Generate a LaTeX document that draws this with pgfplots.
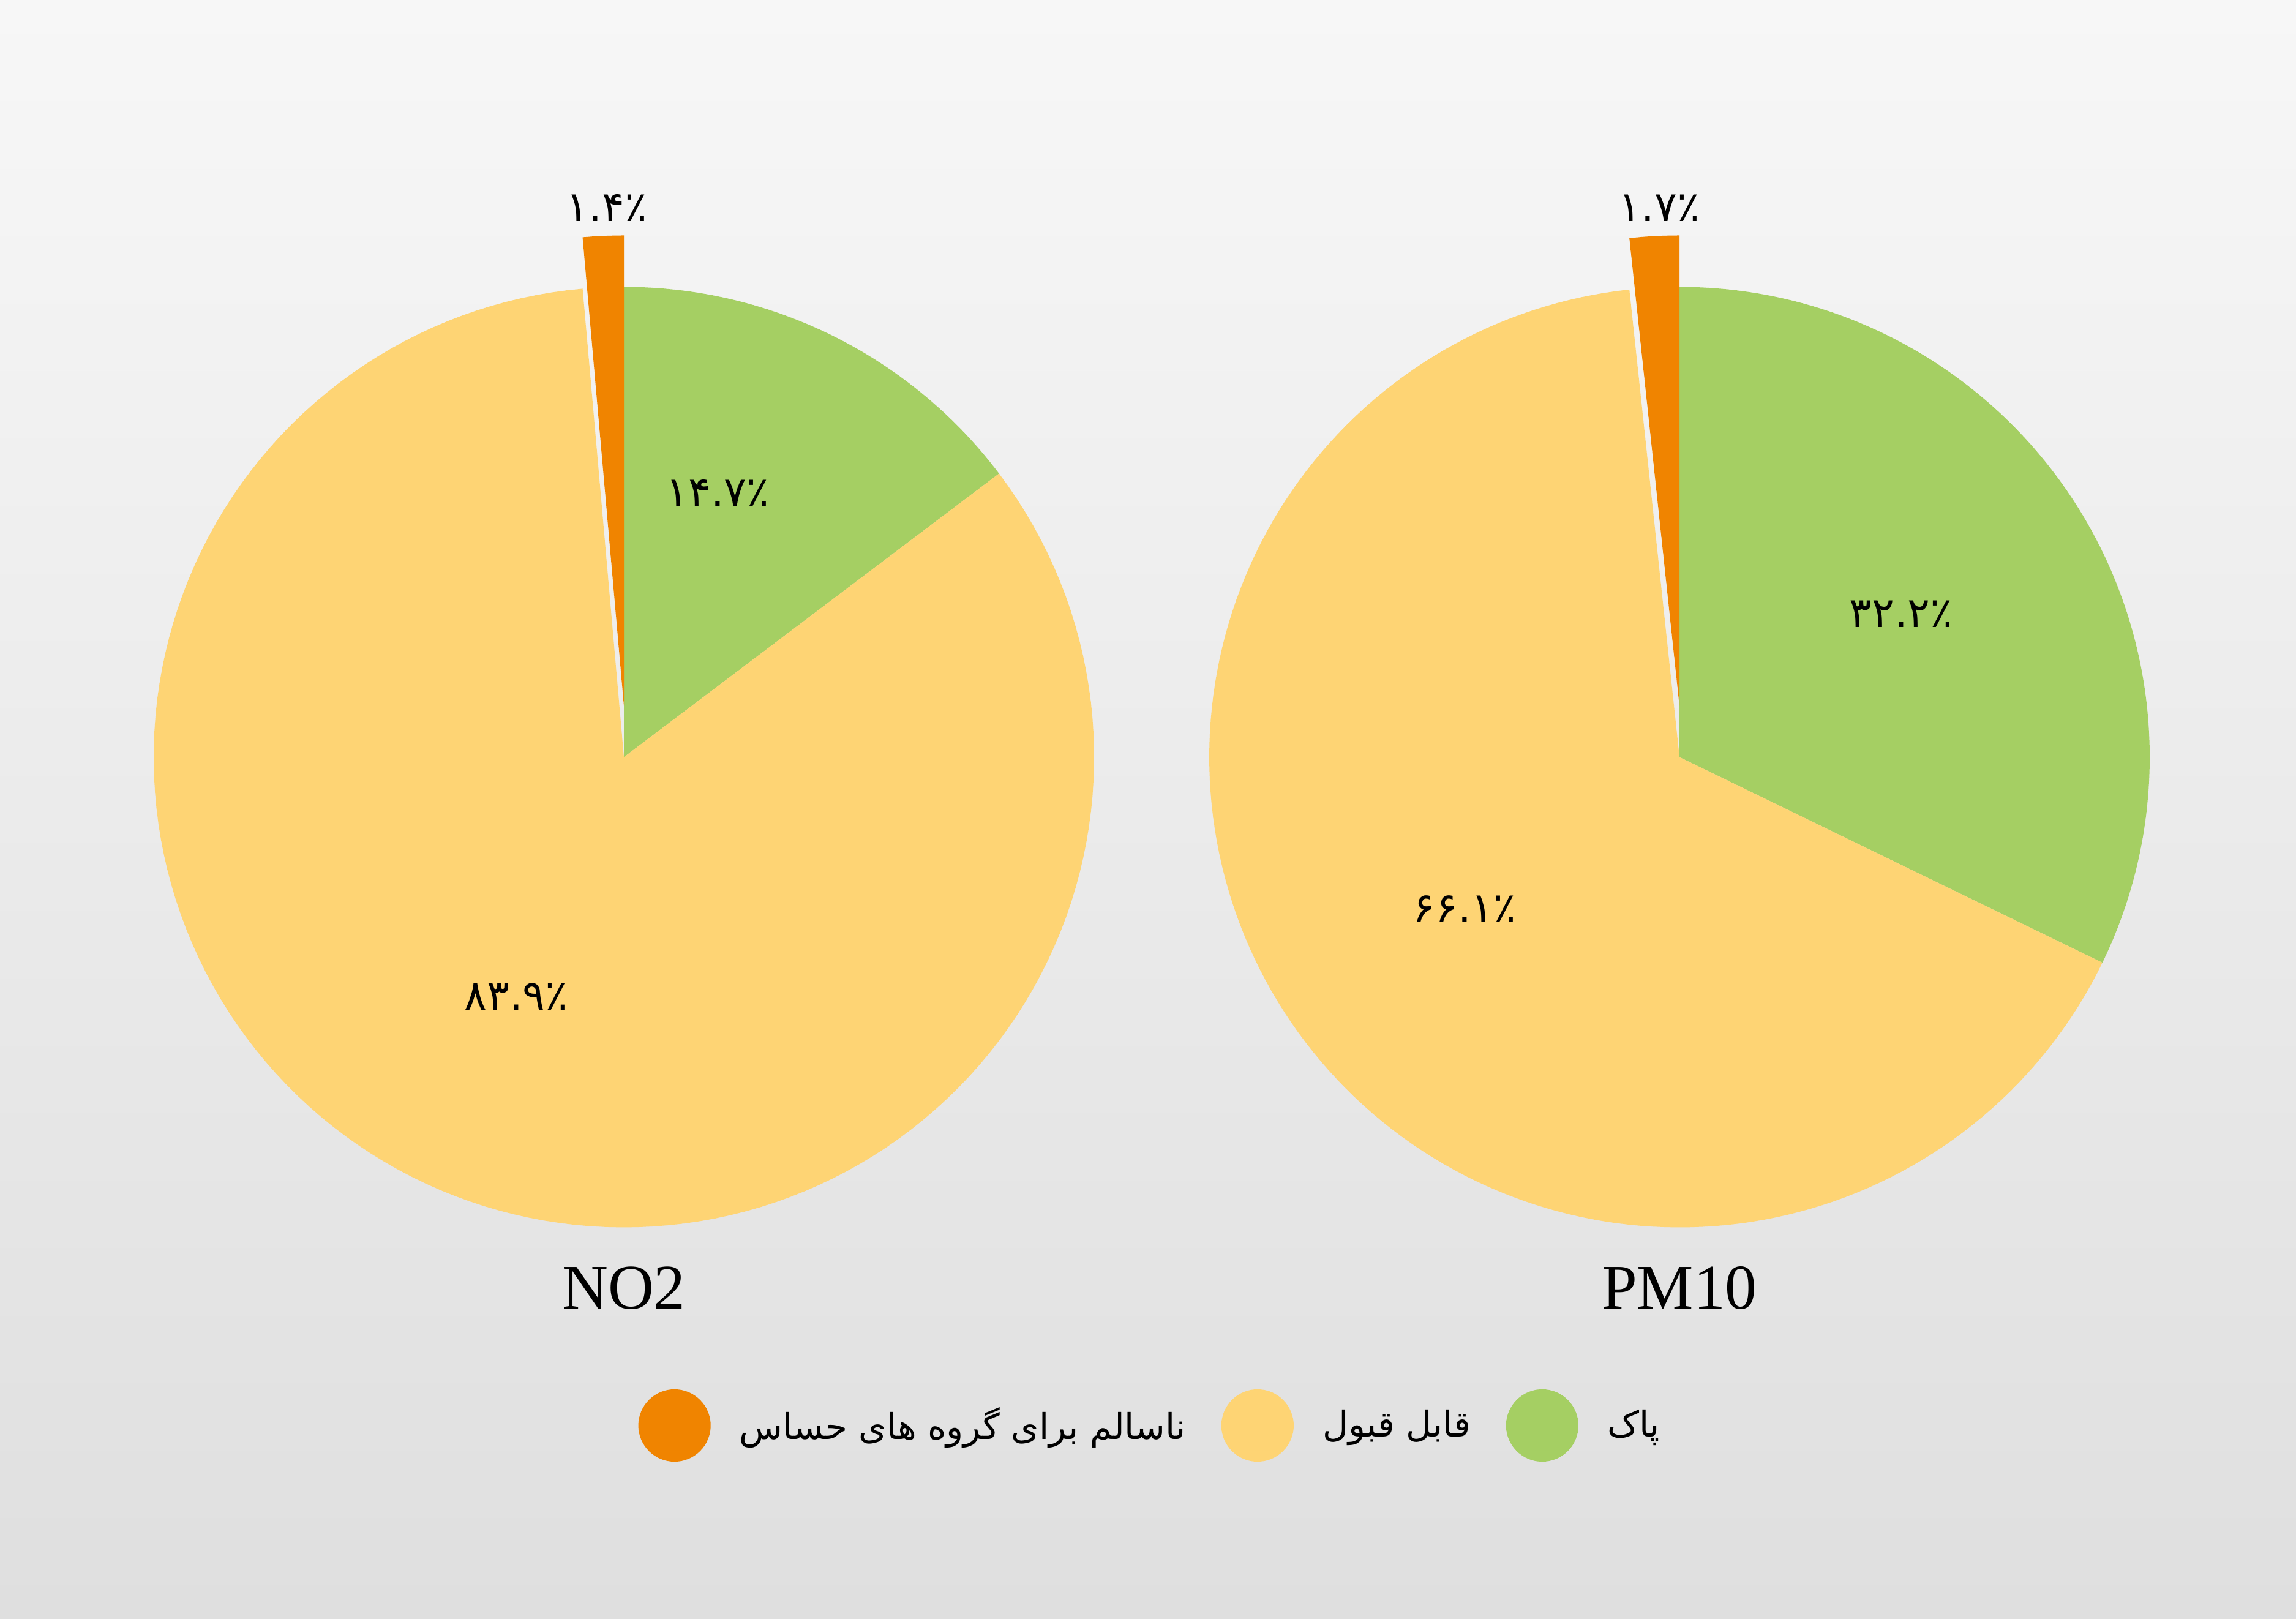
\documentclass[border=0pt]{standalone}
\usepackage{pgfplots}
\pgfplotsset{compat=1.18}
\usepackage{fontspec}
\setmainfont{Liberation Serif}
\newfontfamily\fa[Script=Arabic]{DejaVu Sans}
\TeXXeTstate=1
\definecolor{cgreen}{RGB}{165,207,99}
\definecolor{cyellow}{RGB}{254,212,116}
\definecolor{corange}{RGB}{240,132,0}
\definecolor{bgtop}{RGB}{247,247,247}
\definecolor{bgbot}{RGB}{223,223,223}

% data (percent)
\def\NOgreen{14.7}\def\NOyellow{83.9}\def\NOorange{1.4}
\def\PMgreen{32.2}\def\PMyellow{66.1}\def\PMorange{1.7}
\pgfmathsetmacro\Na{90-3.6*\NOgreen}
\pgfmathsetmacro\Nb{\Na-3.6*\NOyellow}
\pgfmathsetmacro\Nc{\Nb-3.6*\NOorange}
\pgfmathsetmacro\Pa{90-3.6*\PMgreen}
\pgfmathsetmacro\Pb{\Pa-3.6*\PMyellow}
\pgfmathsetmacro\Pc{\Pb-3.6*\PMorange}

\newcommand\pieslice[6]{% cx cy r a b color (a<b)
  \addplot[forget plot, draw=none, fill=#6, domain=#4:#5, samples=160]
    ({#1+#3*cos(x)},{#2+#3*sin(x)}) -- (axis cs:#1,#2) -- cycle;
}

\begin{document}
\begin{tikzpicture}
\shade[top color=bgtop, bottom color=bgbot] (0,0) rectangle (31.75cm,22.386cm);
\begin{axis}[
  at={(0,0)}, anchor=origin,
  width=31.75cm, height=22.386cm, scale only axis,
  xmin=0, xmax=3750, ymin=0, ymax=2644,
  hide axis, clip=false,
  legend columns=3,
  legend style={draw=none, fill=none, at={(axis cs:1881,316)}, anchor=center,
    font=\fa\fontsize{14}{18}\selectfont,
    /tikz/every odd column/.append style={column sep=0.33cm},
    /tikz/every even column/.append style={column sep=0.42cm}},
  legend image code/.code={\fill[#1] (0.5cm,0cm) circle (0.5cm);},
]
% NO2
\pieslice{1019}{1407.5}{768}{\Na}{90}{cgreen}
\pieslice{1019}{1407.5}{768}{\Nb}{\Na}{cyellow}
\pieslice{1019}{1491.5}{768}{\Nc}{\Nb}{corange}
% PM10
\pieslice{2743}{1407.5}{768}{\Pa}{90}{cgreen}
\pieslice{2743}{1407.5}{768}{\Pb}{\Pa}{cyellow}
\pieslice{2743}{1491.5}{768}{\Pc}{\Pb}{corange}

\addlegendimage{corange, draw=none, fill=corange}
\addlegendentry{\beginR ناسالم برای گروه های حساس\endR}
\addlegendimage{cyellow, draw=none, fill=cyellow}
\addlegendentry{\beginR قابل قبول\endR}
\addlegendimage{cgreen, draw=none, fill=cgreen}
\addlegendentry{\beginR پاک\endR}

\begin{scope}[every node/.style={font=\fa\fontsize{16.5}{16.5}\selectfont, inner sep=0pt}]
\node at (axis cs:1172,1838) {۱۴.۷٪};
\node at (axis cs:843,1016) {۸۳.۹٪};
\node at (axis cs:991,2304) {۱.۴٪};
\node at (axis cs:3105,1641) {۳۲.۲٪};
\node at (axis cs:2392,1159) {۶۶.۱٪};
\node at (axis cs:2710,2304) {۱.۷٪};
\end{scope}
\node[anchor=base, font=\fontsize{25}{25}\selectfont, inner sep=0pt] at (axis cs:1019,506) {NO2};
\node[anchor=base, font=\fontsize{25}{25}\selectfont, inner sep=0pt] at (axis cs:2743,506) {PM10};
\end{axis}
\pgfresetboundingbox
\path (0,0) rectangle (31.75cm,22.386cm);
\end{tikzpicture}
\end{document}
